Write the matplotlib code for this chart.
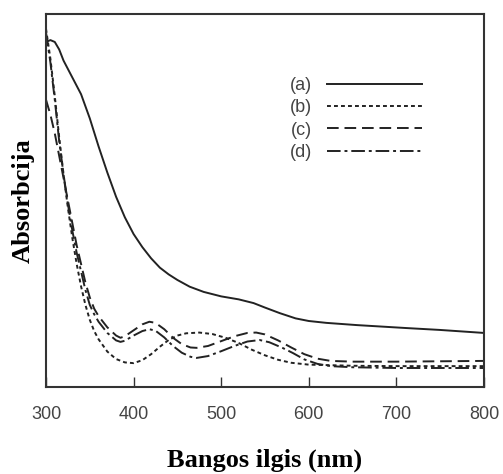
import matplotlib
matplotlib.use("Agg")
import matplotlib.pyplot as plt

# Absorption spectra, wavelength (nm) vs. absorbance (arbitrary units, 0-100)
x_a = [300, 305, 310, 315, 320, 330, 340, 350, 360, 370, 380, 390, 400, 410, 420,
       430, 440, 450, 464, 480, 500, 520, 537, 550, 567, 585, 600, 620, 655, 712,
       750, 800]
y_a = [92.5, 93, 92.5, 90.5, 87.5, 83, 78.5, 72, 64.5, 57.5, 51, 45.5, 41, 37.5, 34.5,
       32, 30.2, 28.7, 26.9, 25.5, 24.3, 23.5, 22.5, 21.3, 19.8, 18.4, 17.7, 17.2, 16.6, 15.8,
       15.3, 14.5]

x_b = [300, 305, 310, 315, 320, 325, 330, 335, 340, 345, 350, 355, 360, 370, 380, 390,
       400, 410, 420, 430, 440, 450, 460, 475, 490, 505, 520, 535, 550, 565, 580, 600,
       650, 700, 750, 800]
y_b = [96, 88, 78, 67, 57, 48, 40, 33, 27, 22, 18, 15, 12.8, 9.5, 7.5, 6.6,
       6.4, 7.2, 8.8, 10.8, 12.6, 13.8, 14.4, 14.6, 14.2, 13.2, 11.8, 10.0, 8.5, 7.3, 6.5, 6.0,
       5.7, 5.6, 5.6, 5.6]

x_c = [300, 305, 310, 315, 320, 325, 330, 335, 340, 345, 350, 355, 360, 370, 380, 385,
       390, 400, 410, 418, 425, 435, 445, 455, 465, 472, 485, 500, 515, 530, 540, 550,
       565, 580, 595, 610, 625, 650, 700, 750, 800]
y_c = [77, 73, 68, 62, 56, 50, 44, 38, 33, 28, 24, 21, 19, 16, 13.8, 13.2,
       13.6, 15.2, 16.8, 17.5, 17.2, 15.5, 13.2, 11.5, 10.6, 10.5, 11.0, 12.3, 13.6, 14.5, 14.6, 14.1,
       12.5, 10.6, 8.8, 7.6, 7.0, 6.8, 6.8, 6.9, 7.0]

x_d = [300, 305, 310, 315, 320, 325, 330, 335, 340, 345, 350, 355, 360, 370, 380, 385,
       390, 400, 410, 418, 425, 435, 445, 455, 465, 472, 485, 500, 515, 530, 544, 555,
       570, 582, 595, 610, 625, 650, 700, 750, 800]
y_d = [95, 87, 77, 66, 57, 49, 42, 36, 31, 26, 22, 19.5, 17.5, 14.5, 12.5, 12.1,
       12.4, 13.8, 15.0, 15.5, 15.1, 13.3, 11.0, 9.2, 8.1, 7.8, 8.3, 9.6, 11.0, 12.2, 12.6, 12.0,
       10.5, 9.1, 7.4, 6.2, 5.6, 5.3, 5.1, 5.1, 5.1]

labels = ["(a)", "(b)", "(c)", "(d)"]
xticks = [300, 400, 500, 600, 700, 800]

ink = "#222222"
fig = plt.figure(figsize=(5.03, 4.74), dpi=100)
ax = fig.add_axes([0.0915, 0.1835, 0.8705, 0.787])

ax.plot(x_a, y_a, color=ink, lw=1.4, ls="-", label=labels[0])
ax.plot(x_b, y_b, color=ink, lw=1.4, ls=(0, (2, 1.6)), label=labels[1])
ax.plot(x_c, y_c, color=ink, lw=1.4, ls=(0, (6, 3)), label=labels[2])
ax.plot(x_d, y_d, color=ink, lw=1.4, ls=(0, (7, 2, 1.5, 2)), label=labels[3])

ax.set_xlim(300, 800)
ax.set_ylim(0, 100)
ax.set_xticks(xticks)
ax.set_yticks([])
ax.tick_params(axis="x", direction="in", length=7, width=1, color="#333333",
               pad=14, labelsize=13, labelcolor="#444444")
for lab in ax.get_xticklabels():
    lab.set_family("Liberation Sans")
for sp in ax.spines.values():
    sp.set_linewidth(1.5)
    sp.set_color("#333333")

ax.set_xlabel("Bangos ilgis (nm)", family="Liberation Serif", fontweight="bold",
              fontsize=19, labelpad=18)
ax.set_ylabel("Absorbcija", family="Liberation Serif", fontweight="bold",
              fontsize=19, labelpad=8)

leg = ax.legend(loc="upper left", bbox_to_anchor=(0.52, 0.875), frameon=False,
                markerfirst=False, handlelength=5.3, labelspacing=0.3,
                handletextpad=0.8, prop={"family": "Liberation Sans", "size": 13})
for t in leg.get_texts():
    t.set_color("#444444")

fig.savefig("out.png", dpi=100)
